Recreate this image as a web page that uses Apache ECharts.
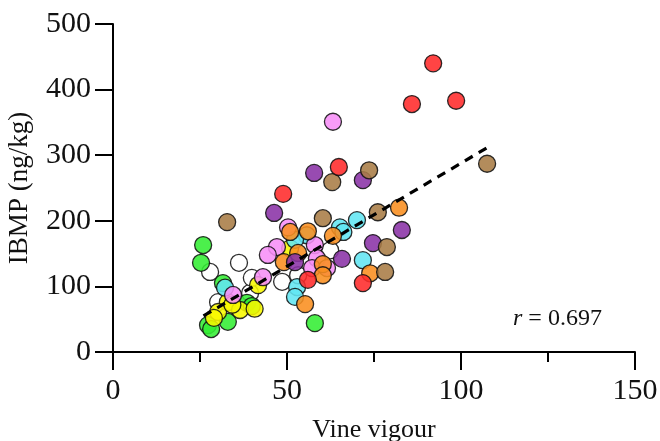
<!DOCTYPE html>
<html><head><meta charset="utf-8">
<script src="https://cdn.jsdelivr.net/npm/echarts@6/dist/echarts.min.js"></script>
<style>html,body{margin:0;padding:0;background:#fff}#c{width:660px;height:441px}</style>
</head><body><div id="c"></div>
<script>
// Data (Vine vigour, IBMP ng/kg) grouped by marker colour
const red    = [[92.0,440],[85.9,378],[98.6,383],[64.9,282],[48.9,241],[71.8,105],[56.0,110]];
const orange = [[82.2,220],[73.9,120],[63.2,177],[55.2,73],[50.9,183],[56.0,184],[53.2,151],[49.1,137],[60.3,134],[60.3,117]];
const brown  = [[107.5,287],[73.6,277],[63.0,259],[32.8,198],[60.3,204],[76.1,213],[78.7,160],[78.2,122]];
const purple = [[57.8,273],[71.8,262],[46.3,212],[83.0,186],[74.7,166],[65.8,142],[52.3,137]];
const pink   = [[63.2,351],[50.3,190],[47.1,160],[44.5,148],[58.0,163],[58.6,143],[57.2,128],[61.5,128],[43.1,114],[34.5,87]];
const cyan   = [[70.1,201],[65.2,190],[66.2,183],[71.8,140],[55.7,178],[52.3,171],[52.9,99],[52.3,84],[32.2,98]];
const green  = [[25.9,163],[25.3,136],[58.0,44],[31.6,105],[38.5,75],[27.3,41],[28.2,35],[33.0,46],[39.9,70]];
const yellow = [[41.7,102],[33.0,76],[30.2,61],[29.0,52],[36.5,64],[40.7,66],[50.9,158],[34.3,72]];
const white  = [[27.9,122],[36.2,136],[30.2,76],[39.4,90],[48.6,107],[62.4,155],[53.2,117],[39.9,113]];
const trendX = [26, 108];
const trendY = [55, 313];
const rLabel = '0.697';
const xTicks = [0, 50, 100, 150];
const yTicks = [0, 100, 200, 300, 400, 500];

const FONT = '"Liberation Serif", "DejaVu Serif", serif';
const groups = [
  [white,  '#ffffff'],
  [green,  '#33ee33'],
  [yellow, '#f8f800'],
  [cyan,   '#62e6f2'],
  [pink,   '#f78ef7'],
  [orange, '#f98e1f'],
  [purple, '#8a32a6'],
  [brown,  '#a87c45'],
  [red,    '#ff2a2a']
];
const series = groups.map(([d, c]) => ({
  type: 'scatter', data: d, symbolSize: 17,
  itemStyle: { color: c, borderColor: '#111', borderWidth: 1.3, opacity: 0.88 },
  z: 3
}));
series.push({
  type: 'line', data: trendX.map((x, i) => [x, trendY[i]]), symbol: 'none',
  lineStyle: { color: '#000', width: 3.2, type: [9, 7] }, z: 5
});

const chart = echarts.init(document.getElementById('c'), null, { renderer: 'canvas' });
chart.setOption({
  animation: false,
  backgroundColor: '#fff',
  grid: { left: 113, top: 24, width: 522, height: 328, containLabel: false, outerBoundsMode: 'none' },
  xAxis: {
    type: 'value', min: xTicks[0], max: xTicks[xTicks.length - 1], interval: 50,
    name: 'Vine vigour', nameLocation: 'middle', nameGap: 65,
    nameTextStyle: { fontFamily: FONT, fontSize: 26, color: '#111' },
    axisLine: { lineStyle: { color: '#000', width: 2 } },
    axisTick: { show: true, inside: false, length: 18, lineStyle: { color: '#000', width: 2 } },
    minorTick: { show: true, splitNumber: 2, length: 10, lineStyle: { color: '#000', width: 2 } },
    axisLabel: { fontFamily: FONT, fontSize: 30, color: '#111', margin: 24 },
    splitLine: { show: false }
  },
  yAxis: {
    type: 'value', min: yTicks[0], max: yTicks[yTicks.length - 1], interval: 100,
    name: 'IBMP (ng/kg)', nameLocation: 'middle', nameGap: 80, nameRotate: 90,
    nameTextStyle: { fontFamily: FONT, fontSize: 27, color: '#111' },
    axisLine: { show: true, lineStyle: { color: '#000', width: 2 } },
    axisTick: { show: true, inside: false, length: 18, lineStyle: { color: '#000', width: 2 } },
    axisLabel: { fontFamily: FONT, fontSize: 30, color: '#111', margin: 22 },
    splitLine: { show: false }
  },
  graphic: [{
    type: 'text', left: 513, top: 307,
    style: {
      text: '{i|r} = ' + rLabel,
      rich: { i: { fontStyle: 'italic', fontFamily: FONT, fontSize: 24, fill: '#111' } },
      font: '24px ' + FONT, fill: '#111'
    }
  }],
  series: series
});
</script></body></html>
